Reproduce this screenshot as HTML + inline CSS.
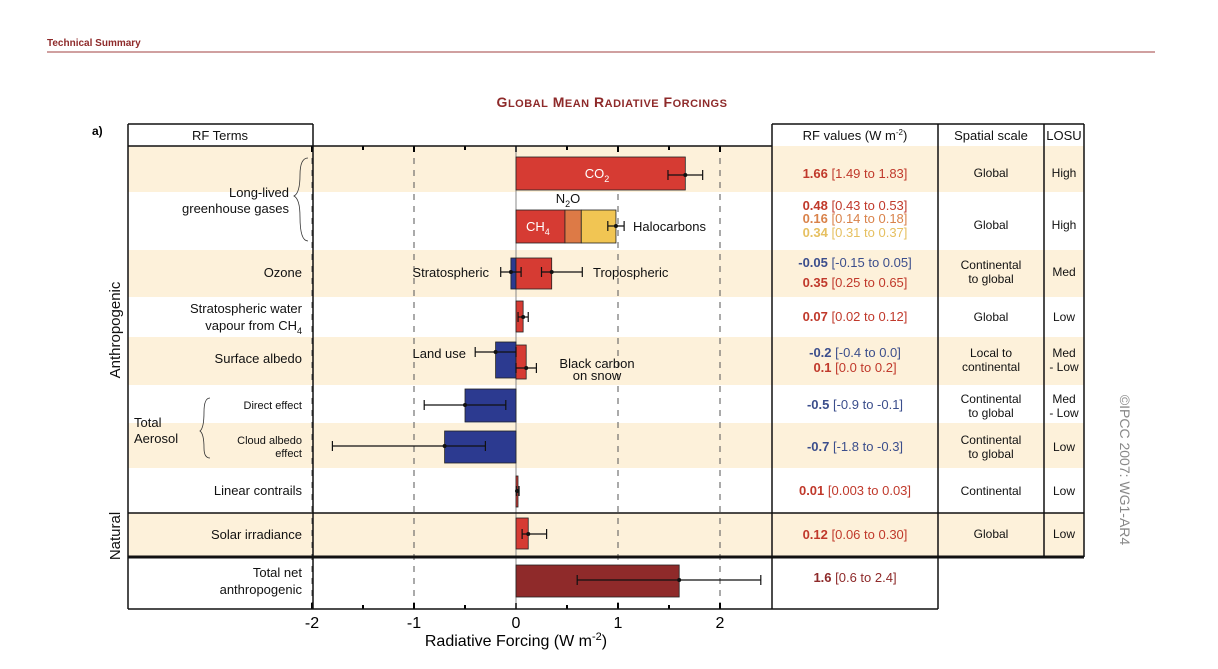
<!DOCTYPE html>
<html><head><meta charset="utf-8"><style>
body{margin:0;background:#fff;width:1218px;height:664px;overflow:hidden;font-family:"Liberation Sans",sans-serif}
svg text{font-family:"Liberation Sans",sans-serif}
</style></head><body>
<svg id="c" width="1218" height="664" viewBox="0 0 1218 664">
<text x="47" y="46" font-size="10" font-weight="bold" fill="#8e2a2a">Technical Summary</text>
<line x1="47" y1="52" x2="1155" y2="52" stroke="#a04040" stroke-width="1"/>
<text x="612" y="107" text-anchor="middle" font-size="14" font-weight="bold" fill="#8e2a2a" letter-spacing="0.5">G<tspan font-size="11">LOBAL</tspan> M<tspan font-size="11">EAN</tspan> R<tspan font-size="11">ADIATIVE</tspan> F<tspan font-size="11">ORCINGS</tspan></text>
<text x="92" y="135" font-size="12" font-weight="bold">a)</text>
<g id="bands"></g>
<g id="grid"></g>
<g id="marks"></g>
<g id="tbl"></g>
</svg>
<script>
const NS="http://www.w3.org/2000/svg";
function mk(tag,attrs,parent,txt){const e=document.createElementNS(NS,tag);for(const k in attrs)e.setAttribute(k,attrs[k]);if(txt!==undefined)e.textContent=txt;parent.appendChild(e);return e;}
const svg=document.getElementById('c');
// data
const rowTops=[146,192,250,297,337,385,423,468,513,557,609];
const shaded=[true,false,true,false,true,false,true,false,true,false];
const barNames=["co2","ch4","n2o","halocarbons","ozone-strat","ozone-trop","strat-water","land-use","black-carbon","aerosol-direct","cloud-albedo","contrails","solar","total-net"];
const barStart=[0,0,0.48,0.64,0,0,0,0,0,0,0,0,0,0];
const barValues=[1.66,0.48,0.16,0.34,-0.05,0.35,0.07,-0.2,0.1,-0.5,-0.7,0.01,0.12,1.6];
const barY0=[157,210,210,210,258,258,301,342,345,389,431,476,518,565];
const barY1=[190,243,243,243,289,289,332,378,379,422,463,507,549,597];
const barColors=["#d63b33","#d63b33","#dd7a46","#f1c553","#2c3a90","#d63b33","#d63b33","#2c3a90","#d63b33","#2c3a90","#2c3a90","#d63b33","#d63b33","#8f2a2a"];
const errMid=[1.66,0.98,null,null,-0.05,0.35,0.07,-0.2,0.1,-0.5,-0.7,0.01,0.12,1.6];
const errLo=[1.49,0.9,null,null,-0.15,0.25,0.02,-0.4,0.0,-0.9,-1.8,0.003,0.06,0.6];
const errHi=[1.83,1.06,null,null,0.05,0.65,0.12,0.0,0.2,-0.1,-0.3,0.03,0.30,2.4];
const errY=[175,226,null,null,272,272,317,352,368,405,446,491,534,580];
const xTicks=[-2,-1,0,1,2];
const xTickLabels=["-2","-1","0","1","2"];
const X=v=>516+v*102;
const bands=document.getElementById('bands');
for(let i=0;i<10;i++){if(shaded[i]){const r=mk('rect',{x:128,y:rowTops[i],width:956,height:rowTops[i+1]-rowTops[i],fill:'#fdf1da'},bands);}}
const grid=document.getElementById('grid');
xTicks.forEach((t,i)=>{if(t!==0){const l=mk('line',{x1:X(t),y1:146,x2:X(t),y2:609,stroke:'#555','stroke-dasharray':'6,6','stroke-width':1},grid);}
 const tx=mk('text',{x:X(t),y:628,'text-anchor':'middle','font-size':16},grid,xTickLabels[i]);
 mk('line',{x1:X(t),y1:146,x2:X(t),y2:152,stroke:'#000','stroke-width':2},grid);mk('line',{x1:X(t),y1:603,x2:X(t),y2:609,stroke:'#000','stroke-width':2},grid);});
[-1.5,-0.5,0.5,1.5].forEach(t=>{mk('line',{x1:X(t),y1:146,x2:X(t),y2:150,stroke:'#000','stroke-width':2},grid);mk('line',{x1:X(t),y1:605,x2:X(t),y2:609,stroke:'#000','stroke-width':2},grid);});
mk('line',{x1:X(0),y1:146,x2:X(0),y2:609,stroke:'#888','stroke-width':1},grid);
const xt=mk('text',{x:516,y:646,'text-anchor':'middle','font-size':16},grid);
xt.innerHTML='Radiative Forcing  (W m<tspan dy="-6" font-size="11">-2</tspan><tspan dy="6">)</tspan>';
const marks=document.getElementById('marks');
barNames.forEach((n,i)=>{const a=X(barStart[i]),b=X(barStart[i]+barValues[i]);
 const r=mk('rect',{x:Math.min(a,b),y:barY0[i],width:Math.max(Math.abs(b-a),2),height:barY1[i]-barY0[i],fill:barColors[i],stroke:'#222','stroke-width':0.8},marks);
 });
barNames.forEach((n,i)=>{if(errMid[i]===null)return;const y=errY[i];const g=mk('g',{},marks);
 mk('line',{x1:X(errLo[i]),y1:y,x2:X(errHi[i]),y2:y,stroke:'#111','stroke-width':1.2},g);
 mk('line',{x1:X(errLo[i]),y1:y-5,x2:X(errLo[i]),y2:y+5,stroke:'#111','stroke-width':1.2},g);
 mk('line',{x1:X(errHi[i]),y1:y-5,x2:X(errHi[i]),y2:y+5,stroke:'#111','stroke-width':1.2},g);
 mk('circle',{cx:X(errMid[i]),cy:y,r:2,fill:'#111'},g);});
function lbl(x,y,t,anchor,size,fill,name,parent){const e=mk('text',{x:x,y:y,'text-anchor':anchor||'start','font-size':size||13,fill:fill||'#111'},parent||marks);e.innerHTML=t;return e;}
lbl(597,178,'CO<tspan dy="4" font-size="9">2</tspan>','middle',13,'#fff','co2-label');
lbl(526,231,'CH<tspan dy="4" font-size="9">4</tspan>','start',13,'#fff','ch4-label');
lbl(568,203,'N<tspan dy="4" font-size="9">2</tspan><tspan dy="-4">O</tspan>','middle',13,'#111','n2o-label');
lbl(633,231,'Halocarbons','start',13,'#111','halocarbons-label');
lbl(489,277,'Stratospheric','end',13,'#111','stratospheric-label');
lbl(593,277,'Tropospheric','start',13,'#111','tropospheric-label');
lbl(466,358,'Land use','end',13,'#111','land-use-label');
lbl(597,368,'Black carbon','middle',13,'#111','black-carbon-label');
lbl(597,380,'on snow','middle',13,'#111','black-carbon-label-2');
const tb=document.getElementById('tbl');
const L=[[302,277,'Ozone',13],[302,313,'Stratospheric water',13],[302,330,'vapour from CH<tspan dy="4" font-size="9">4</tspan>',13],[302,363,'Surface albedo',13],[302,409,'Direct effect',11],[302,444,'Cloud albedo',11],[302,457,'effect',11],[302,495,'Linear contrails',13],[302,539,'Solar irradiance',13],[302,577,'Total net',13],[302,594,'anthropogenic',13],[289,197,'Long-lived',13],[289,213,'greenhouse gases',13],[134,427,'Total',13],[134,443,'Aerosol',13]];
L.forEach(a=>lbl(a[0],a[1],a[2],a[0]<200?'start':'end',a[3],'#111','row-term-label',tb));
mk('path',{d:'M308 158 Q300 158 300 175 Q300 193 294 196 Q300 199 300 217 Q300 241 308 241',fill:'none',stroke:'#333','stroke-width':0.8},tb);
mk('path',{d:'M210 398 Q204 398 204 412 Q204 428 200 431 Q204 434 204 448 Q204 458 210 458',fill:'none',stroke:'#333','stroke-width':0.8},tb);
const B=(x1,y1,x2,y2,w)=>mk('line',{x1,y1,x2,y2,stroke:'#111','stroke-width':w||1.5},tb);
B(128,124,128,609);B(313,124,313,609);B(128,124,313,124);B(128,146,772,146);B(128,609,938,609);B(128,513,1084,513);B(128,557,1084,557,3);
B(772,124,772,609);B(938,124,938,557);B(1044,124,1044,557);B(1084,124,1084,557);B(772,124,1084,124);B(938,557,938,609);
lbl(220,140,'RF Terms','middle',13,'#111','rf-terms-header',tb);
lbl(855,140,'RF values (W m<tspan dy="-5" font-size="8">-2</tspan><tspan dy="5">)</tspan>','middle',13,'#111','rf-values-header',tb);
lbl(991,140,'Spatial scale','middle',13,'#111','spatial-scale-header',tb);
lbl(1064,140,'LOSU','middle',13,'#111','losu-header',tb);
const R='#c0392b',Bl='#3b4e8c',O='#d9824a',Y='#e6c061';
const V=[[178,'1.66','[1.49 to 1.83]',R],[210,'0.48','[0.43 to 0.53]',R],[223,'0.16','[0.14 to 0.18]',O],[237,'0.34','[0.31 to 0.37]',Y],[267,'-0.05','[-0.15 to 0.05]',Bl],[287,'0.35','[0.25 to 0.65]',R],[321,'0.07','[0.02 to 0.12]',R],[357,'-0.2','[-0.4 to 0.0]',Bl],[372,'0.1','[0.0 to 0.2]',R],[409,'-0.5','[-0.9 to -0.1]',Bl],[451,'-0.7','[-1.8 to -0.3]',Bl],[495,'0.01','[0.003 to 0.03]',R],[539,'0.12','[0.06 to 0.30]',R],[582,'1.6','[0.6 to 2.4]','#8e2a2a']];
V.forEach(v=>lbl(855,v[0],'<tspan font-weight="bold">'+v[1]+'</tspan> '+v[2],'middle',13,v[3],'rf-value',tb));
const S=[[177,'Global'],[229,'Global'],[269,'Continental'],[283,'to global'],[321,'Global'],[357,'Local to'],[371,'continental'],[403,'Continental'],[417,'to global'],[444,'Continental'],[458,'to global'],[495,'Continental'],[538,'Global']];
S.forEach(s=>lbl(991,s[0],s[1],'middle',12,'#111','spatial-scale',tb));
const Q=[[177,'High'],[229,'High'],[276,'Med'],[321,'Low'],[357,'Med'],[371,'- Low'],[403,'Med'],[417,'- Low'],[451,'Low'],[495,'Low'],[538,'Low']];
Q.forEach(s=>lbl(1064,s[0],s[1],'middle',12,'#111','losu',tb));
const a1=lbl(0,0,'Anthropogenic','middle',15,'#111','anthropogenic-label',tb);a1.setAttribute('transform','translate(120,330) rotate(-90)');
const a2=lbl(0,0,'Natural','middle',15,'#111','natural-label',tb);a2.setAttribute('transform','translate(120,536) rotate(-90)');
const a3=lbl(0,0,'©IPCC 2007: WG1-AR4','middle',14,'#888','copyright',tb);a3.setAttribute('transform','translate(1120,470) rotate(90)');
</script>
</body></html>
